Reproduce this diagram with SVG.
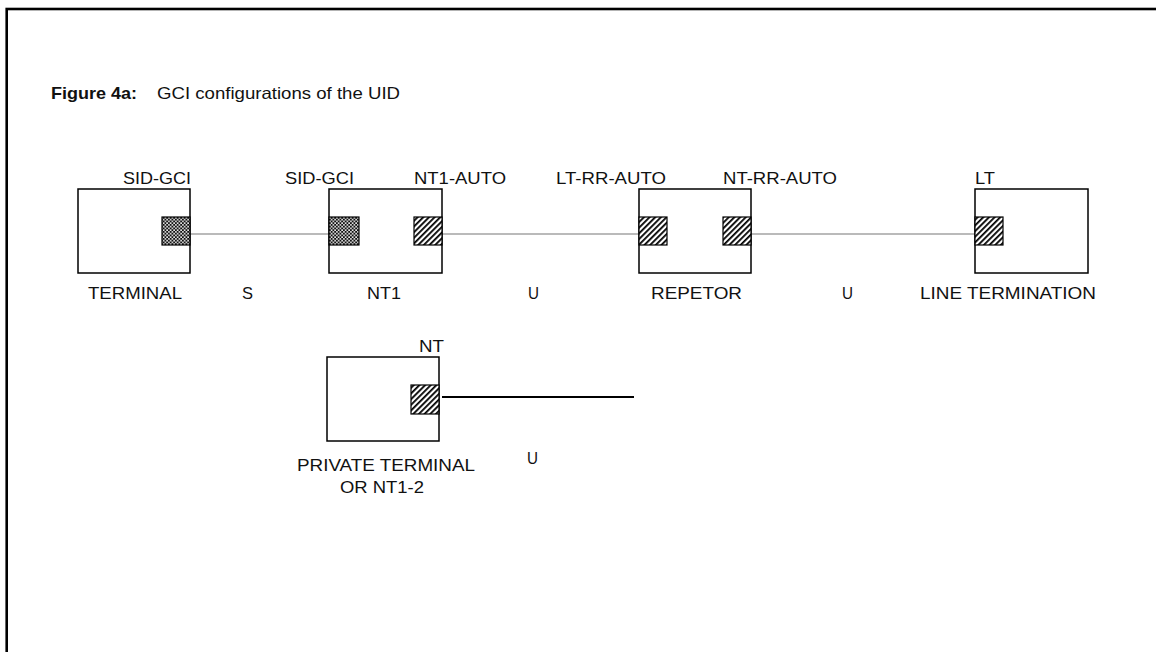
<svg xmlns="http://www.w3.org/2000/svg" width="1156" height="652" viewBox="0 0 1156 652">
<style>
text{font-family:"Liberation Sans",Arial,sans-serif;font-size:16.5px;fill:#111}
.t{font-weight:bold}
.box{fill:#fff;stroke:#000;stroke-width:1.5}
.hp{fill:url(#hatch);stroke:#000;stroke-width:1.2}
.cp{fill:url(#cross);stroke:#000;stroke-width:1.2}
.ln{stroke:#777;stroke-width:1.2;fill:none}
.lnb{stroke:#000;stroke-width:2;fill:none}
</style>
<defs>
<pattern id="hatch" width="4" height="4" patternUnits="userSpaceOnUse" patternTransform="rotate(45)">
<rect width="4" height="4" fill="#fff"/>
<rect x="0" y="0" width="1.8" height="4" fill="#000"/>
</pattern>
<pattern id="cross" width="3.5" height="3.5" patternUnits="userSpaceOnUse">
<rect width="3.5" height="3.5" fill="#111"/>
<circle cx="0.9" cy="0.9" r="0.9" fill="#fff"/>
<circle cx="2.65" cy="2.65" r="0.9" fill="#fff"/>
</pattern>
</defs>
<rect width="1156" height="652" fill="#fff"/>
<rect x="6.7" y="9" width="1300" height="800" fill="none" stroke="#000" stroke-width="2.6"/>
<g id="title">
<text class="t" x="51" y="99" textLength="86" lengthAdjust="spacingAndGlyphs">Figure 4a:</text>
<text x="157" y="99" textLength="243" lengthAdjust="spacingAndGlyphs">GCI configurations of the UID</text>
</g>
<g id="connectors">
<line class="ln" x1="190" y1="234" x2="329" y2="234"/>
<line class="ln" x1="442" y1="234" x2="639" y2="234"/>
<line class="ln" x1="751" y1="234" x2="975" y2="234"/>
<line class="lnb" x1="442" y1="397" x2="634" y2="397"/>
</g>
<g id="terminal">
<rect class="box" x="78" y="189" width="112" height="84"/>
<rect class="cp" x="162" y="217" width="28" height="28"/>
<text x="123" y="184" textLength="68" lengthAdjust="spacingAndGlyphs">SID-GCI</text>
<text x="88" y="299" textLength="94" lengthAdjust="spacingAndGlyphs">TERMINAL</text>
</g>
<g id="nt1">
<rect class="box" x="329" y="189" width="113" height="84"/>
<rect class="cp" x="329" y="217" width="30" height="28"/>
<rect class="hp" x="414" y="217" width="28" height="28"/>
<text x="285" y="184" textLength="69" lengthAdjust="spacingAndGlyphs">SID-GCI</text>
<text x="414" y="184" textLength="92" lengthAdjust="spacingAndGlyphs">NT1-AUTO</text>
<text x="367" y="299" textLength="34" lengthAdjust="spacingAndGlyphs">NT1</text>
</g>
<g id="repetor">
<rect class="box" x="639" y="189" width="112" height="84"/>
<rect class="hp" x="639" y="217" width="28" height="28"/>
<rect class="hp" x="723" y="217" width="28" height="28"/>
<text x="556" y="184" textLength="110" lengthAdjust="spacingAndGlyphs">LT-RR-AUTO</text>
<text x="723" y="184" textLength="114" lengthAdjust="spacingAndGlyphs">NT-RR-AUTO</text>
<text x="651" y="299" textLength="91" lengthAdjust="spacingAndGlyphs">REPETOR</text>
</g>
<g id="lt">
<rect class="box" x="975" y="189" width="113" height="84"/>
<rect class="hp" x="975" y="217" width="28" height="28"/>
<text x="975" y="184" textLength="20" lengthAdjust="spacingAndGlyphs">LT</text>
<text x="920" y="299" textLength="176" lengthAdjust="spacingAndGlyphs">LINE TERMINATION</text>
</g>
<g id="private">
<rect class="box" x="327" y="357" width="112" height="84"/>
<rect class="hp" x="411" y="385" width="28" height="29"/>
<text x="419" y="352" textLength="25" lengthAdjust="spacingAndGlyphs">NT</text>
<text x="297" y="471" textLength="178" lengthAdjust="spacingAndGlyphs">PRIVATE TERMINAL</text>
<text x="340" y="493" textLength="84" lengthAdjust="spacingAndGlyphs">OR NT1-2</text>
</g>
<g id="interface-labels">
<text x="242" y="299" textLength="11" lengthAdjust="spacingAndGlyphs">S</text>
<text x="528" y="299" textLength="11" lengthAdjust="spacingAndGlyphs">U</text>
<text x="842" y="299" textLength="11" lengthAdjust="spacingAndGlyphs">U</text>
<text x="527" y="464" textLength="11" lengthAdjust="spacingAndGlyphs">U</text>
</g>
</svg>
